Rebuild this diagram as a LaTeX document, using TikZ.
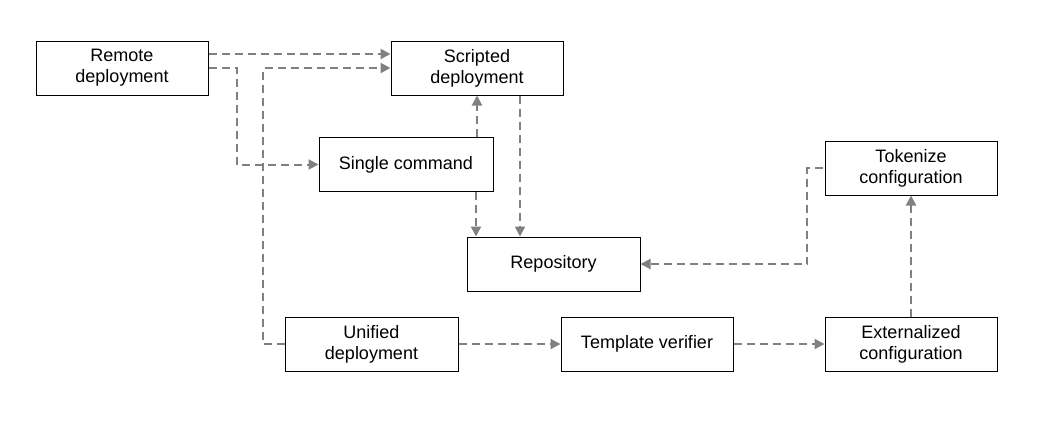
\documentclass[tikz,border=0pt]{standalone}
\usepackage{fontspec}
\setmainfont{Liberation Sans}
\usetikzlibrary{arrows.meta}
\begin{document}
\begin{tikzpicture}[x=1pt,y=-1pt,
  box/.style={draw=black, line width=1pt, minimum width=172pt, minimum height=54pt,
    inner sep=0pt, align=center, font=\fontsize{18pt}{20.7pt}\selectfont},
  conn/.style={draw={rgb,255:red,128;green,128;blue,128}, line width=2pt,
    dash pattern=on 8pt off 5pt,
    -{Triangle[length=10pt,width=10pt]}},
  plain/.style={conn, -}]
\useasboundingbox (0,0) rectangle (1056,439);
\node[box] (remote) at (122,68) {Remote\\deployment};
\node[box] (scripted) at (477,68) {Scripted\\deployment};
\node[box, minimum width=174pt] (single) at (406,164.5) {Single command};
\node[box, minimum width=173pt] (repo) at (553.5,264) {Repository};
\node[box] (tokenize) at (911,168) {Tokenize\\configuration};
\node[box, minimum width=173pt] (unified) at (371.5,344) {Unified\\deployment};
\node[box] (template) at (647,344) {Template verifier};
\node[box] (ext) at (911,344) {Externalized\\configuration};

\draw[conn] (remote.east |- 0,54) -- (scripted.west |- 0,54);
\draw[conn] (remote.east) -- (237,68) |- (single.west);
\draw[conn] (unified.west) -| (263,68) -- (scripted.west);
\draw[conn] (single.north -| 477,0) -- (scripted.south -| 477,0);
\draw[conn] (single.south -| 476,0) -- (repo.north -| 476,0);
\draw[conn] (scripted.south -| 520,0) -- (repo.north -| 520,0);
\draw[conn] ([xshift=-2pt]tokenize.west) -| (807,264) -- (repo.east);
\draw[conn] (unified.east) -- (template.west);
\draw[conn] (template.east) -- (ext.west);
\draw[conn] (ext.north) -- (tokenize.south);
\end{tikzpicture}
\end{document}
